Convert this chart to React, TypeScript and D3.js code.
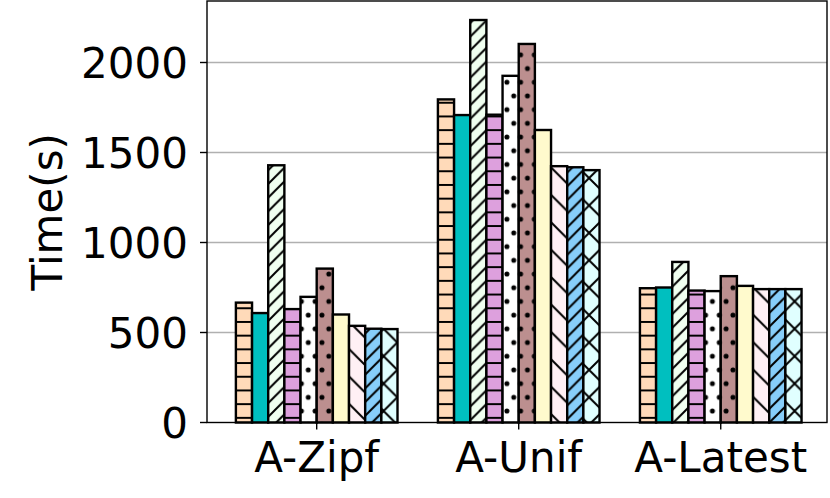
import { scaleBand, scaleLinear } from "d3";

const groups = ["A-Zipf", "A-Unif", "A-Latest"];
const seriesKeys = ["s1", "s2", "s3", "s4", "s5", "s6", "s7", "s8", "s9", "s10"];
const zipfTimes = [666, 608, 1429, 630, 698, 855, 600, 537, 521, 519];
const unifTimes = [1795, 1708, 2236, 1710, 1926, 2103, 1625, 1424, 1418, 1402];
const latestTimes = [746, 750, 892, 733, 730, 813, 759, 741, 741, 741];
const yTicks = [0, 500, 1000, 1500, 2000];

const colors = [
  "#FFDAB9", "#00BFBF", "#F0FFF0", "#DDA0DD", "#FFFFFF",
  "#BC8F8F", "#FFFACD", "#FFF0F5", "#87CEFA", "#E0FFFF",
];
const hatches = ["hz", "", "ne", "hz", "dot", "dot", "", "nw", "ne", "xx"];

const W = 830;
const H = 498;
const left = 207;
const right = 827;
const top = 1;
const bottom = 422.5;
const FONT = "'DejaVu Sans', sans-serif";

function Patterns() {
  const s = 13.7;
  const S = 27.4;
  const lw = 2;
  return (
    <defs>
      <pattern id="hz" patternUnits="userSpaceOnUse" width={s} height={s}>
        <line x1={0} y1={s / 2} x2={s} y2={s / 2} stroke="black" strokeWidth={lw} />
      </pattern>
      <pattern id="ne" patternUnits="userSpaceOnUse" width={s} height={s}>
        <path
          d={`M0,${s} L${s},0 M-2,2 L2,-2 M${s - 2},${s + 2} L${s + 2},${s - 2}`}
          stroke="black"
          strokeWidth={lw}
        />
      </pattern>
      <pattern id="nw" patternUnits="userSpaceOnUse" width={S} height={S}>
        <path
          d={`M0,0 L${S},${S} M-2,${S - 2} L2,${S + 2} M${S - 2},-2 L${S + 2},2`}
          stroke="black"
          strokeWidth={lw}
        />
      </pattern>
      <pattern id="xx" patternUnits="userSpaceOnUse" width={S} height={S}>
        <path
          d={`M0,0 L${S},${S} M-2,${S - 2} L2,${S + 2} M${S - 2},-2 L${S + 2},2 M0,${S} L${S},0 M-2,2 L2,-2 M${S - 2},${S + 2} L${S + 2},${S - 2}`}
          stroke="black"
          strokeWidth={lw}
        />
      </pattern>
      <pattern id="dot" patternUnits="userSpaceOnUse" width={s} height={s * 2}>
        {[
          [0, 0],
          [s, 0],
          [0, s * 2],
          [s, s * 2],
          [s / 2, s],
        ].map(([cx, cy], i) => (
          <circle key={i} cx={cx} cy={cy} r={2.5} fill="black" />
        ))}
      </pattern>
    </defs>
  );
}

export default function App() {
  const table = [zipfTimes, unifTimes, latestTimes];
  const x = scaleLinear().domain([-0.543, 2.526]).range([left, right]);
  const inner = scaleBand().domain(seriesKeys).range([-0.4, 0.4]);
  const y = scaleLinear().domain([0, 2000]).range([bottom, bottom - 360]);

  return (
    <svg
      width={W}
      height={H}
      style={{ position: "fixed", left: 0, top: 0, background: "white" }}
      fontFamily={FONT}
    >
      <Patterns />
      {yTicks
        .filter((t) => t > 0)
        .map((t) => (
          <line key={t} x1={left} x2={right} y1={y(t)} y2={y(t)} stroke="#b0b0b0" strokeWidth={1.4} />
        ))}
      {groups.map((g, gi) =>
        seriesKeys.map((k, si) => {
          const v = table[gi][si];
          const bx = x(gi + (inner(k) as number));
          const bw = x(inner.bandwidth()) - x(0);
          const by = y(v);
          const bh = y(0) - y(v);
          return (
            <g key={g + k}>
              <rect x={bx} y={by} width={bw} height={bh} fill={colors[si]} />
              {hatches[si] && (
                <rect x={bx} y={by} width={bw} height={bh} fill={`url(#${hatches[si]})`} />
              )}
              <rect x={bx} y={by} width={bw} height={bh} fill="none" stroke="black" strokeWidth={2.4} />
            </g>
          );
        })
      )}
      <rect
        x={left}
        y={top}
        width={right - left}
        height={bottom - top}
        fill="none"
        stroke="black"
        strokeWidth={1.4}
      />
      {yTicks.map((t) => (
        <g key={t}>
          <line x1={left - 7} x2={left} y1={y(t)} y2={y(t)} stroke="black" strokeWidth={1.4} />
          <text x={188} y={y(t) + 15} textAnchor="end" fontSize={42}>
            {t}
          </text>
        </g>
      ))}
      {groups.map((g, gi) => (
        <g key={g}>
          <line x1={x(gi)} x2={x(gi)} y1={bottom} y2={bottom + 7} stroke="black" strokeWidth={1.4} />
          <text x={x(gi)} y={472} textAnchor="middle" fontSize={42}>
            {g}
          </text>
        </g>
      ))}
      <text
        transform={`translate(62, ${(top + bottom) / 2}) rotate(-90)`}
        textAnchor="middle"
        fontSize={42}
      >
        Time(s)
      </text>
    </svg>
  );
}
